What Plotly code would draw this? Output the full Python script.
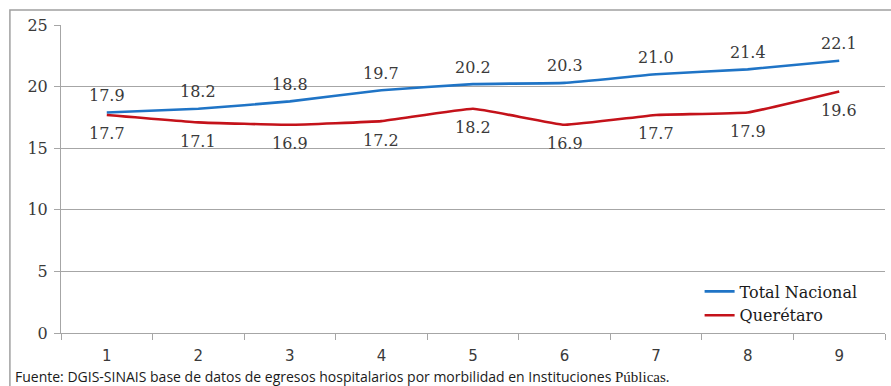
import plotly.graph_objects as go

# Categories and series values
periodos = [1, 2, 3, 4, 5, 6, 7, 8, 9]
total_nacional = [17.9, 18.2, 18.8, 19.7, 20.2, 20.3, 21.0, 21.4, 22.1]
queretaro = [17.7, 17.1, 16.9, 17.2, 18.2, 16.9, 17.7, 17.9, 19.6]
y_ticks = [0, 5, 10, 15, 20, 25]

BLUE = "#1f74c6"
RED = "#c4121a"
GRID = "#a6a6a6"
TEXT = "#3a3a3a"
SERIF = "DejaVu Serif"

fig = go.Figure()
fig.add_trace(go.Scatter(
    x=periodos, y=total_nacional, name="Total Nacional", mode="lines",
    line=dict(color=BLUE, width=2.6, shape="spline", smoothing=0.3),
))
fig.add_trace(go.Scatter(
    x=periodos, y=queretaro, name="Querétaro", mode="lines",
    line=dict(color=RED, width=2.6, shape="spline", smoothing=0.3),
))

annotations = []
for p, v in zip(periodos, total_nacional):
    annotations.append(dict(x=p, y=v, text=f"{v:.1f}", showarrow=False,
                            yshift=17, font=dict(family=SERIF, size=16, color=TEXT)))
for p, v in zip(periodos, queretaro):
    annotations.append(dict(x=p, y=v, text=f"{v:.1f}", showarrow=False,
                            yshift=-19, font=dict(family=SERIF, size=16, color=TEXT)))

annotations.append(dict(
    xref="paper", yref="paper", x=-0.058, y=-0.14, xanchor="left", yanchor="middle",
    showarrow=False,
    text='Fuente: DGIS-SINAIS base de datos de egresos hospitalarios por morbilidad en Instituciones '
         '<span style="font-family:\'Liberation Serif\'; font-size:15px">Públicas</span>.',
    font=dict(family="Open Sans", size=14, color="#1a1a1a"),
))

# Boundaries between periods carry the x tick marks
limites = [p - 0.5 for p in periodos] + [periodos[-1] + 0.5]

fig.update_layout(
    width=891, height=386,
    margin=dict(l=61, r=6, t=25, b=53),
    paper_bgcolor="white", plot_bgcolor="white",
    showlegend=True,
    legend=dict(x=0.775, y=0.19, xanchor="left", yanchor="top",
                bgcolor="rgba(0,0,0,0)", font=dict(family=SERIF, size=16, color="#1a1a1a"),
                itemwidth=30, tracegroupgap=0),
    annotations=annotations,
    shapes=[dict(type="rect", xref="paper", yref="paper",
                 x0=-0.062, x1=1.03, y0=-0.2, y1=1.049,
                 line=dict(color="#a0a0a0", width=1.5), layer="below")],
)

fig.update_xaxes(
    range=[0.5, 9.5], tickvals=periodos, ticks="", ticklen=0, ticklabelstandoff=9,
    showline=True, linecolor=GRID, linewidth=1, showgrid=False, zeroline=False,
    tickfont=dict(family="DejaVu Sans", size=15, color=TEXT),
    minor=dict(tickvals=limites, ticks="outside", ticklen=6, tickcolor=GRID, showgrid=False),
)
fig.update_yaxes(
    range=[0, 25], tickvals=y_ticks, ticks="outside", ticklen=6, ticklabelstandoff=3,
    tickcolor=GRID, showline=True, linecolor=GRID, linewidth=1,
    showgrid=True, gridcolor=GRID, gridwidth=1, zeroline=False,
    tickfont=dict(family=SERIF, size=16, color=TEXT),
)

fig.write_html("out.html")
